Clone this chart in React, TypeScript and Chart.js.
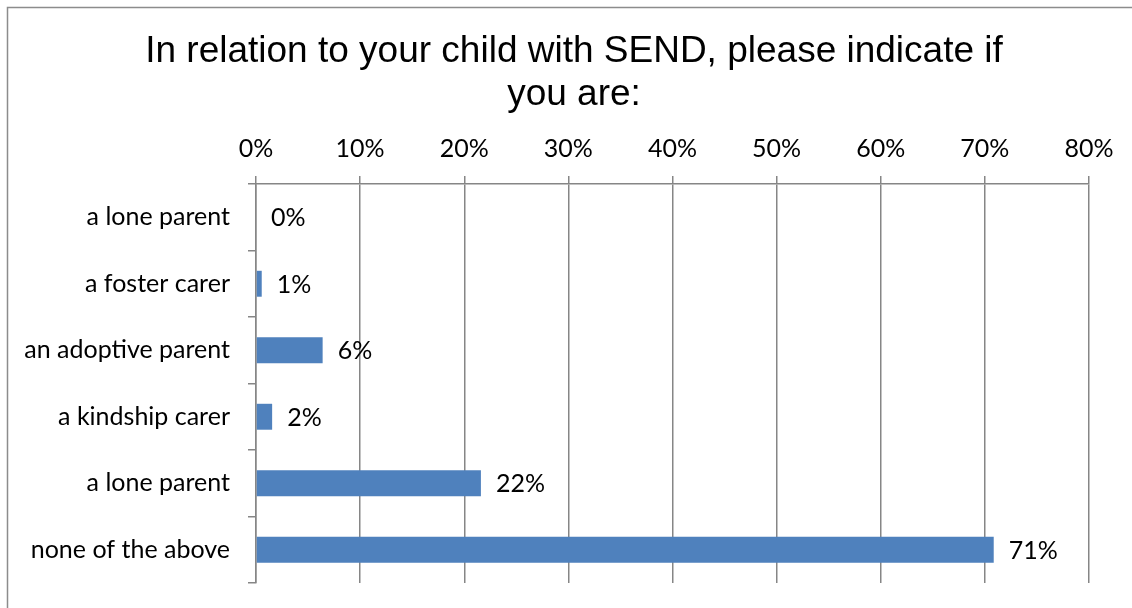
import React, { useEffect, useRef } from "react";
import { Chart, registerables } from "chart.js";

Chart.register(...registerables);

const TITLE_LINES = ["In relation to your child with SEND, please indicate if", "you are:"];
const CATEGORIES = [
  "a lone parent",
  "a foster carer",
  "an adoptive parent",
  "a kindship carer",
  "a lone parent",
  "none of the above",
];
const VALUES = [0, 0.55, 6.4, 1.55, 21.6, 70.85];
const X_MIN = 0;
const X_MAX = 80;
const X_STEP = 10;

const LABEL_FONT = "Lato";
const LABEL_SIZE = 25;
const GRID_COLOR = "#868686";
const BAR_COLOR = "#4F81BD";

const framePlugin = {
  id: "frame",
  beforeDraw(chart: any) {
    const ctx = chart.ctx;
    ctx.save();
    ctx.fillStyle = "#ffffff";
    ctx.fillRect(0, 0, chart.width, chart.height);
    ctx.strokeStyle = "#8c8c8c";
    ctx.lineWidth = 1.5;
    ctx.beginPath();
    ctx.moveTo(7.5, chart.height);
    ctx.lineTo(7.5, 7.5);
    ctx.lineTo(chart.width, 7.5);
    ctx.stroke();
    ctx.restore();
  },
};

const titlePlugin = {
  id: "customTitle",
  afterDraw(chart: any) {
    const ctx = chart.ctx;
    ctx.save();
    ctx.fillStyle = "#000000";
    ctx.font = "37px 'Liberation Sans', Arial, sans-serif";
    ctx.textAlign = "center";
    ctx.textBaseline = "alphabetic";
    const cx = 574;
    ctx.fillText(TITLE_LINES[0], cx, 62);
    ctx.fillText(TITLE_LINES[1], cx, 105);
    ctx.restore();
  },
};

const valueLabelPlugin = {
  id: "valueLabels",
  afterDatasetsDraw(chart: any) {
    const ctx = chart.ctx;
    const meta = chart.getDatasetMeta(0);
    ctx.save();
    ctx.fillStyle = "#000000";
    ctx.font = `${LABEL_SIZE}px ${LABEL_FONT}, sans-serif`;
    ctx.textAlign = "left";
    ctx.textBaseline = "middle";
    meta.data.forEach((el: any, i: number) => {
      const v = VALUES[i];
      ctx.fillText(`${Math.round(v)}%`, el.x + 15, el.y + 1);
    });
    ctx.restore();
  },
};

export default function App() {
  const ref = useRef<HTMLCanvasElement | null>(null);

  useEffect(() => {
    if (!ref.current) return;
    const chart = new Chart(ref.current, {
      type: "bar",
      data: {
        labels: CATEGORIES,
        datasets: [
          {
            data: VALUES,
            backgroundColor: BAR_COLOR,
            borderWidth: 0,
            barPercentage: 0.39,
            categoryPercentage: 1,
          },
        ],
      },
      options: {
        indexAxis: "y",
        responsive: false,
        animation: false,
        layout: { padding: { left: 0, right: 43, top: 120, bottom: 25 } },
        plugins: {
          legend: { display: false },
          tooltip: { enabled: false },
          title: { display: false },
        },
        scales: {
          x: {
            position: "top",
            min: X_MIN,
            max: X_MAX,
            ticks: {
              stepSize: X_STEP,
              callback: (v: any) => `${v}%`,
              color: "#000000",
              font: { family: LABEL_FONT, size: LABEL_SIZE },
              padding: 12,
              maxRotation: 0,
            },
            grid: {
              color: GRID_COLOR,
              lineWidth: 1.5,
              tickLength: 8,
              drawTicks: true,
            },
            border: { color: GRID_COLOR, width: 1.5 },
            afterFit: (scale: any) => {
              scale.height = 64;
              scale.paddingLeft = 0;
              scale.paddingRight = 0;
            },
          },
          y: {
            ticks: {
              color: "#000000",
              font: { family: LABEL_FONT, size: LABEL_SIZE },
              padding: 18,
            },
            grid: {
              color: GRID_COLOR,
              lineWidth: 1.5,
              drawOnChartArea: false,
              drawTicks: true,
              tickLength: 8,
              offset: true,
            },
            border: { color: GRID_COLOR, width: 1.5 },
            afterFit: (scale: any) => {
              scale.width = 256;
              scale.paddingTop = 0;
              scale.paddingBottom = 0;
            },
          },
        },
      },
      plugins: [framePlugin, valueLabelPlugin, titlePlugin],
    });
    return () => chart.destroy();
  }, []);

  return (
    <div style={{ position: "absolute", left: 0, top: 0, width: 1132, height: 608 }}>
      <canvas ref={ref} width={1132} height={608} style={{ display: "block" }} />
    </div>
  );
}
